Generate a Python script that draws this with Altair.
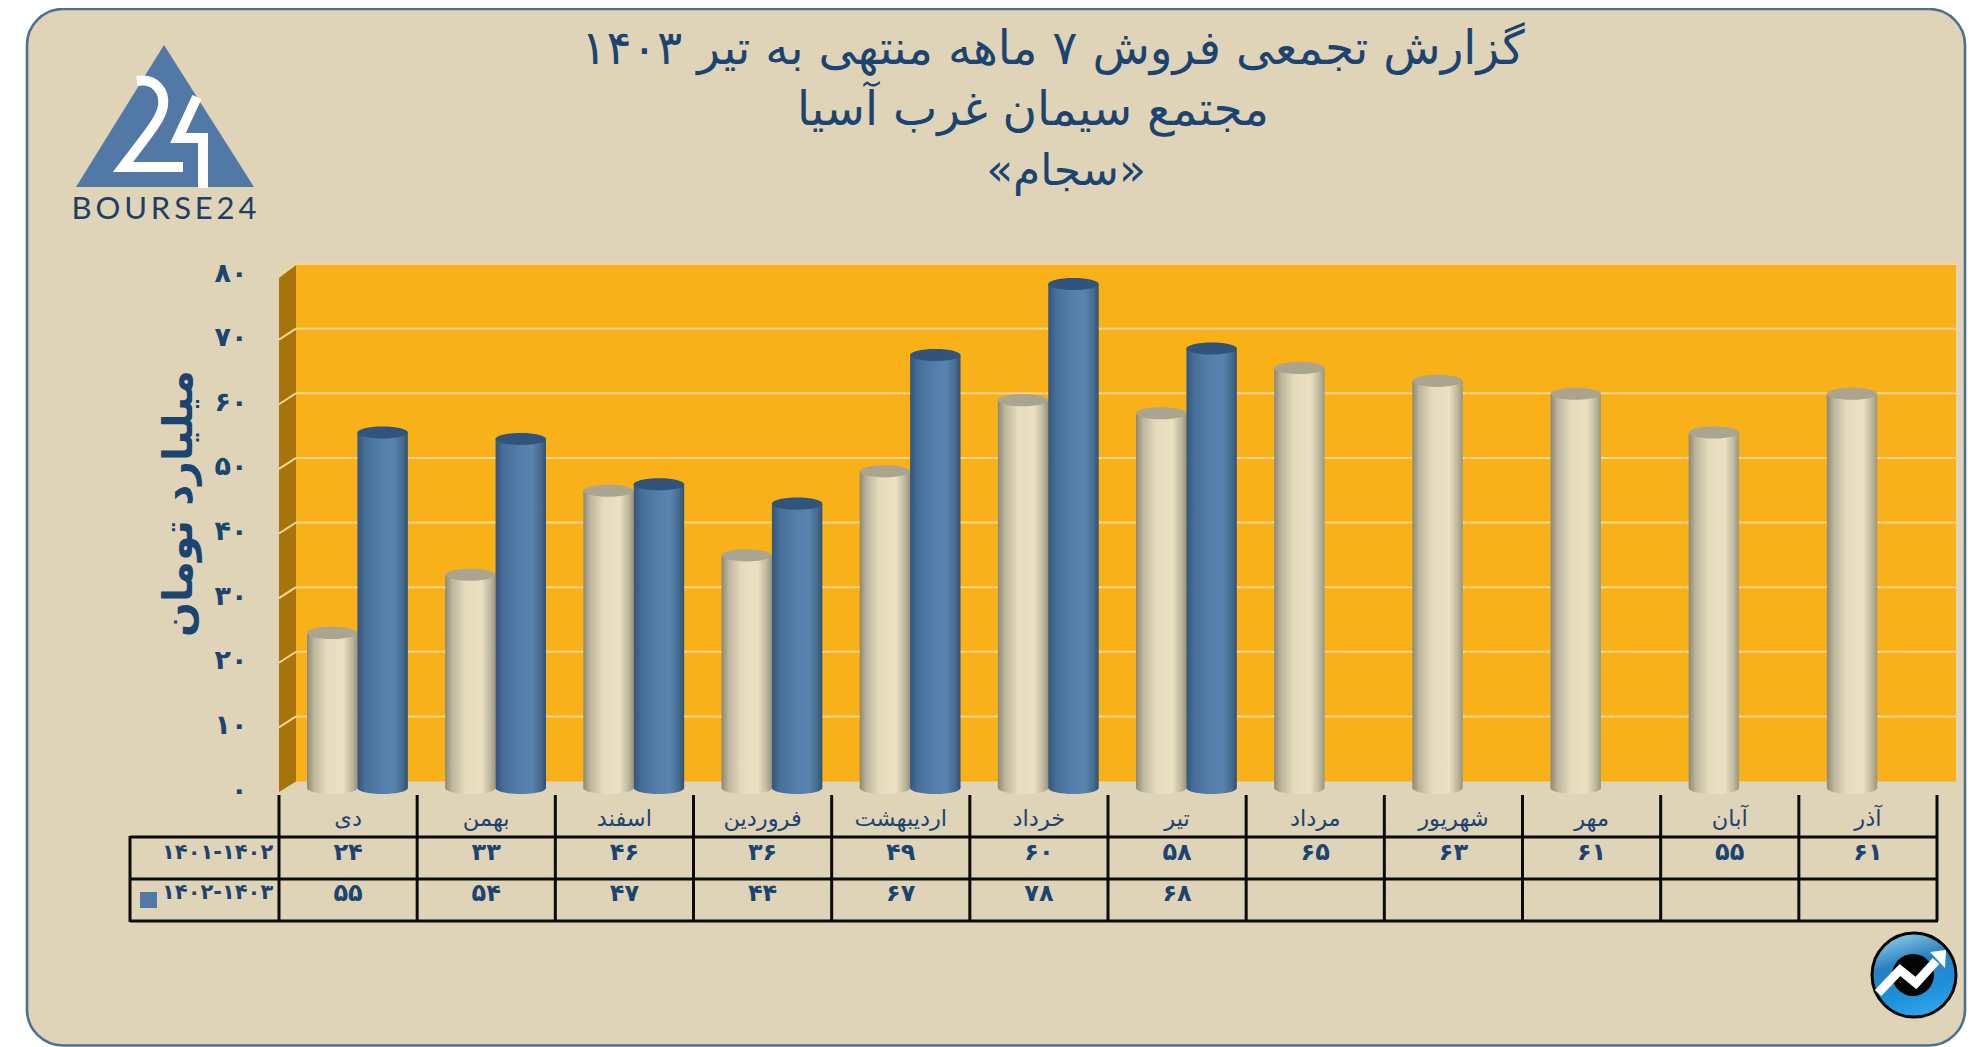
import altair as alt
import pandas as pd
import json

months = ["دی", "بهمن", "اسفند", "فروردین", "اردیبهشت", "خرداد", "تیر", "مرداد", "شهریور", "مهر", "آبان", "آذر"]
series_a_name = "۱۴۰۱-۱۴۰۲"
series_b_name = "۱۴۰۲-۱۴۰۳"
series_a = [24, 33, 46, 36, 49, 60, 58, 65, 63, 61, 55, 61]
series_b = [55, 54, 47, 44, 67, 78, 68]
y_ticks = [0, 10, 20, 30, 40, 50, 60, 70, 80]
title_lines = ["گزارش تجمعی فروش ۷ ماهه منتهی به تیر ۱۴۰۳", "مجتمع سیمان غرب آسیا", "«سجام»"]
y_title = "میلیارد تومان"
brand = "BOURSE24"

W, H = 1962, 1039
OFF = 8
INK = "#1B4470"
FONT = "DejaVu Sans"

fa = str.maketrans("0123456789", "۰۱۲۳۴۵۶۷۸۹")
def pf(n):
    return str(n).translate(fa)

rows_a = [{"month": m, "series": "a", "value": v, "label": pf(v)} for m, v in zip(months, series_a)]
rows_b = [{"month": m, "series": "b", "value": v, "label": pf(v)} for m, v in zip(months, series_b)]
df_a = pd.DataFrame(rows_a)
df_b = pd.DataFrame(rows_b)
df_ticks = pd.DataFrame({"tick": y_ticks[1:]})
one = alt.Data(values=[{"k": 1}])

def px(v):
    return alt.value(v - OFF)

x_scale = alt.Scale(type="band", domain=months, range=[279 - OFF, 1937 - OFF], paddingInner=0, paddingOuter=0)
y_scale = alt.Scale(type="linear", domain=[0, 80], range=[788 - OFF, 271 - OFF], nice=False, zero=False)
off_scale = alt.Scale(type="band", domain=["a", "b"], paddingInner=0, paddingOuter=0.37, align=0.75)

y_label_expr = "{" + ",".join(f"'{t}':{json.dumps(pf(t), ensure_ascii=False)}" for t in y_ticks) + "}[''+datum.value]"

x_axis = alt.Axis(
    title=None, orient="bottom", offset=-(H - (818 - OFF)), domain=False, ticks=False, grid=False,
    labelAngle=0, labelFont=FONT, labelFontSize=22.5, labelFontWeight="normal", labelColor=INK,
    labelBaseline="middle", labelAlign="center", labelPadding=0, zindex=1, labelOverlap=False,
)
y_axis = alt.Axis(
    title=y_title, orient="left", offset=-(247 - OFF), values=y_ticks, domain=False, ticks=False, grid=False,
    labelExpr=y_label_expr, labelFont=FONT, labelFontSize=27, labelFontWeight="bold", labelColor=INK,
    labelPadding=0, labelOffset=2, labelAlign="right", labelBaseline="middle", zindex=1,
    titleFont=FONT, titleFontSize=41, titleFontWeight="bold", titleColor=INK, titleAngle=-90,
    titleAlign="center", titleBaseline="middle", titleX=179 - 247, titleY=503 - OFF,
)
X = alt.X("month:N", scale=x_scale, axis=x_axis)
Y = alt.Y("value:Q", scale=y_scale, axis=y_axis)
XO = alt.XOffset("series:N", scale=off_scale)

def pg(d, fill=None, stroke=None, sw=0):
    """Decorative shape, drawn in pixel units of the page."""
    kw = dict(shape=d, size=4, opacity=1)
    if fill:
        kw.update(filled=True, fill=fill)
    else:
        kw.update(filled=False, fill="transparent")
    if stroke:
        kw.update(stroke=stroke, strokeWidth=sw, strokeCap="butt", strokeJoin="miter")
    else:
        kw.update(strokeWidth=0)
    return alt.Chart(one).mark_point(**kw).encode(x=alt.value(-OFF), y=alt.value(-OFF))

def rule(x1, y1, x2, y2, color="#0B0B0B", sw=3):
    return alt.Chart(one).mark_rule(color=color, strokeWidth=sw).encode(
        x=px(x1), x2=px(x2), y=px(y1), y2=px(y2))

def label(text, x, y, size, weight="normal", color=INK, font=FONT, align="center", angle=0):
    return alt.Chart(alt.Data(values=[{"t": text}])).mark_text(
        font=font, fontSize=size, fontWeight=weight, color=color, align=align, baseline="middle", angle=angle
    ).encode(text="t:N", x=px(x), y=px(y))

def grad(stops):
    return alt.Gradient(gradient="linear", x1=0, y1=0, x2=1, y2=0,
                        stops=[alt.GradientStop(offset=o, color=c) for o, c in stops])

cream = grad([(0, "#8D8873"), (0.14, "#BDB69D"), (0.4, "#E6DBBD"), (0.72, "#EBE0C2"), (0.9, "#BDB69D"), (1, "#9A947E")])
blue = grad([(0, "#34557A"), (0.15, "#466E98"), (0.5, "#5580AC"), (0.72, "#5A84AF"), (0.9, "#456B8E"), (1, "#30506F")])

ELL = "M-1 0A1 0.24 0 1 0 1 0A1 0.24 0 1 0 -1 0Z"
SIZE = 50.4 ** 2

def cylinders(df, body, top):
    base_y = alt.Y("zero:Q", scale=y_scale, axis=y_axis)
    ch = alt.Chart(df)
    return [
        ch.transform_calculate(zero="0").mark_point(shape=ELL, size=SIZE, filled=True, fill=body, opacity=1, strokeWidth=0)
          .encode(x=X, xOffset=XO, y=base_y),
        ch.mark_bar(fill=body, opacity=1).encode(x=X, xOffset=XO, y=Y),
        ch.mark_point(shape=ELL, size=SIZE, filled=True, fill=top, opacity=1, strokeWidth=0)
          .encode(x=X, xOffset=XO, y=Y),
    ]

layers = []

# panel
layers.append(alt.Chart(one).mark_rect(fill="#DFD3B8", stroke="#4E6F8E", strokeWidth=2.6, cornerRadius=36).encode(
    x=px(27), x2=px(1965), y=alt.value(1), y2=alt.value(H - 1.5)))

# logo
layers.append(pg("M164 45L254 187L76 187Z", fill="#5279A6"))
layers.append(pg("M137 81C156 78 165 92 163 106C161 118 153 128 123 167L183 167", stroke="#FFFFFF", sw=10))
layers.append(pg("M197 97L178 138L203 138L203 188", stroke="#FFFFFF", sw=10))
layers.append(label("\u200a\u200a".join(brand), 164, 210, 31, font="Lato", color="#1C3F66"))

# titles
layers.append(label(title_lines[0], 1053, 50, 47))
layers.append(label(title_lines[1], 1033, 111, 47))
layers.append(label(title_lines[2], 1066, 172, 44))

# back and side walls
layers.append(pg("M296 265L1956 265L1956 781.5L296 781.5Z", fill="#F9B11A"))
layers.append(pg("M279 278L296 265L296 781.5L279 792Z", fill="#A6740B"))
grid_y = alt.Y("tick:Q", scale=y_scale, axis=y_axis)
layers.append(alt.Chart(df_ticks).mark_rule(color="#FBD58E", strokeWidth=2, yOffset=-7).encode(
    x=px(296), x2=px(1956), y=grid_y))
layers.append(alt.Chart(df_ticks).mark_point(
    shape="M-1 0.65L1 -0.65", size=289, filled=False, fill="transparent", stroke="#FBD58E", strokeWidth=2, opacity=1, yOffset=-1.5
).encode(x=px(287.5), y=grid_y))

# cylinders
layers += cylinders(df_a, cream, "#ABA48F")
layers += cylinders(df_b, blue, "#30547C")

# table
layers.append(alt.Chart(pd.DataFrame({"month": months})).mark_rule(color="#0B0B0B", strokeWidth=3).encode(
    x=alt.X("month:N", scale=x_scale, axis=x_axis, bandPosition=0), y=px(795), y2=px(921)))
layers.append(alt.Chart(pd.DataFrame({"month": months[-1:]})).mark_rule(color="#0B0B0B", strokeWidth=3).encode(
    x=alt.X("month:N", scale=x_scale, axis=x_axis, bandPosition=1), y=px(795), y2=px(921)))
layers.append(rule(130, 837, 1938, 837))
layers.append(rule(130, 879, 1938, 879))
layers.append(rule(130, 921, 1938, 921))
layers.append(rule(130, 836, 130, 922))

for df, y in [(df_a, 853), (df_b, 894)]:
    layers.append(alt.Chart(df).mark_text(font=FONT, fontSize=24, fontWeight="bold", color=INK, baseline="middle").encode(
        x=X, y=px(y), text="label:N"))
layers.append(label(series_a_name, 162, 853, 21, weight="bold", align="left"))
layers.append(label(series_b_name, 162, 893, 21, weight="bold", align="left"))
layers.append(pg("M140 892L157 892L157 908L140 908Z", fill="#5279A6"))

# corner badge
badge = alt.Gradient(gradient="linear", x1=0.3, y1=0, x2=0.6, y2=1, stops=[
    alt.GradientStop(offset=0, color="#8ECBEA"), alt.GradientStop(offset=0.35, color="#2A7FBE"),
    alt.GradientStop(offset=0.7, color="#1E8FDA"), alt.GradientStop(offset=1, color="#2FA6EC")])
layers.append(alt.Chart(one).mark_point(shape="circle", size=84 ** 2, filled=True, fill=badge, stroke="#050505", strokeWidth=3, opacity=1)
              .encode(x=px(1914), y=px(975)))
layers.append(alt.Chart(one).mark_point(shape="circle", size=42 ** 2, filled=True, fill="#040404", opacity=1, strokeWidth=0)
              .encode(x=px(1913), y=px(975)))
layers.append(pg("M1878 993L1900 970L1916 983L1936 961", stroke="#FFFFFF", sw=9))
layers.append(pg("M1930 952L1946 950L1945 968Z", fill="#FFFFFF"))

chart = alt.layer(*layers).properties(
    width=W, height=H, padding=0, autosize=alt.AutoSizeParams(type="none"),
    background="white",
).configure_view(stroke=None, fill=None)

chart.save("out.html", embed_options={"renderer": "svg", "actions": False})
